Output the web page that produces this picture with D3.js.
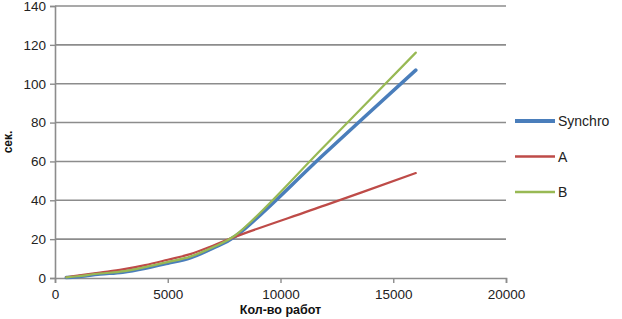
<!DOCTYPE html>
<html>
<head>
<meta charset="utf-8">
<title>Synchro / A / B</title>
<script src="https://d3js.org/d3.v7.min.js"></script>
<style>
  body { margin: 0; background: #fff; }
  svg { display: block; font-family: "Liberation Sans", Arial, sans-serif; }
</style>
</head>
<body>
<div id="chart"></div>
<script>
// data
var jobs     = [500, 1000, 2000, 3000, 4000, 5000, 6000, 7000, 8000, 12000, 16000];
var synchro  = [0.2, 0.7, 2.0, 3.0, 5.0, 7.6, 10.4, 15.3, 21.5, 64.5, 107.0];
var seriesA  = [0.4, 1.2, 2.8, 4.4, 6.6, 9.4, 12.3, 16.6, 21.3, 37.5, 54.0];
var seriesB  = [0.3, 0.9, 2.3, 3.4, 5.6, 8.2, 11.0, 15.8, 22.0, 68.5, 116.0];
var names    = ["Synchro", "A", "B"];
var xTicks   = [0, 5000, 10000, 15000, 20000];
var yTicks   = [0, 20, 40, 60, 80, 100, 120, 140];

var colors = ["#4a7ebb", "#be4b48", "#98b954"];
var widths = [3.5, 2.2, 2.2];
var values = [synchro, seriesA, seriesB];

var W = 622, H = 319;
var margin = {left: 55, right: 116, top: 6, bottom: 41};

var svg = d3.select("#chart").append("svg")
    .attr("width", W)
    .attr("height", H);

var x = d3.scaleLinear().domain([0, 20000]).range([margin.left, W - margin.right]);
var y = d3.scaleLinear().domain([0, 140]).range([H - margin.bottom, margin.top]);

// horizontal gridlines
svg.append("g").selectAll("line")
    .data(yTicks.slice(1))
    .enter().append("line")
    .attr("x1", x(0)).attr("x2", x(20000))
    .attr("y1", function(d) { return y(d); })
    .attr("y2", function(d) { return y(d); })
    .attr("stroke", "#8c8c8c")
    .attr("stroke-width", 1.6);

// y axis
var yAxis = svg.append("g")
    .attr("transform", "translate(" + x(0) + ",0)")
    .call(d3.axisLeft(y).tickValues(yTicks).tickSize(5).tickPadding(4));

// x axis
var xAxis = svg.append("g")
    .attr("transform", "translate(0," + y(0) + ")")
    .call(d3.axisBottom(x).tickValues(xTicks).tickSize(5).tickPadding(6).tickFormat(d3.format("d")));

[yAxis, xAxis].forEach(function(ax) {
    ax.select(".domain").attr("stroke", "#8c8c8c").attr("stroke-width", 1.6);
    ax.selectAll(".tick line").attr("stroke", "#8c8c8c").attr("stroke-width", 1.4);
    ax.selectAll("text")
        .attr("fill", "#222")
        .style("font-size", "13.5px")
        .style("font-family", "'Liberation Sans', Arial, sans-serif");
});

// the lines
var line = d3.line()
    .x(function(d, i) { return x(jobs[i]); })
    .y(function(d) { return y(d); })
    .curve(d3.curveCatmullRom.alpha(0.5));

values.forEach(function(v, k) {
    svg.append("path")
        .datum(v)
        .attr("fill", "none")
        .attr("stroke", colors[k])
        .attr("stroke-width", widths[k])
        .attr("stroke-linecap", "round")
        .attr("d", line);
});

// axis titles
svg.append("text")
    .attr("x", x(10000))
    .attr("y", 314)
    .attr("text-anchor", "middle")
    .style("font-size", "12.5px")
    .style("font-weight", "bold")
    .attr("fill", "#111")
    .text("Кол-во работ");

svg.append("text")
    .attr("transform", "translate(12," + y(70) + ") rotate(-90)")
    .attr("text-anchor", "middle")
    .style("font-size", "12px")
    .style("font-weight", "bold")
    .attr("fill", "#111")
    .text("сек.");

// legend
var legend = svg.append("g").attr("transform", "translate(515,121)");
names.forEach(function(n, k) {
    var g = legend.append("g").attr("transform", "translate(0," + (k * 35.5) + ")");
    g.append("line")
        .attr("x1", 0).attr("x2", 40)
        .attr("stroke", colors[k])
        .attr("stroke-width", k === 0 ? 4 : 2.6);
    g.append("text")
        .attr("x", 43)
        .attr("dy", "0.36em")
        .style("font-size", "14px")
        .attr("fill", "#222")
        .text(n);
});
</script>
</body>
</html>
